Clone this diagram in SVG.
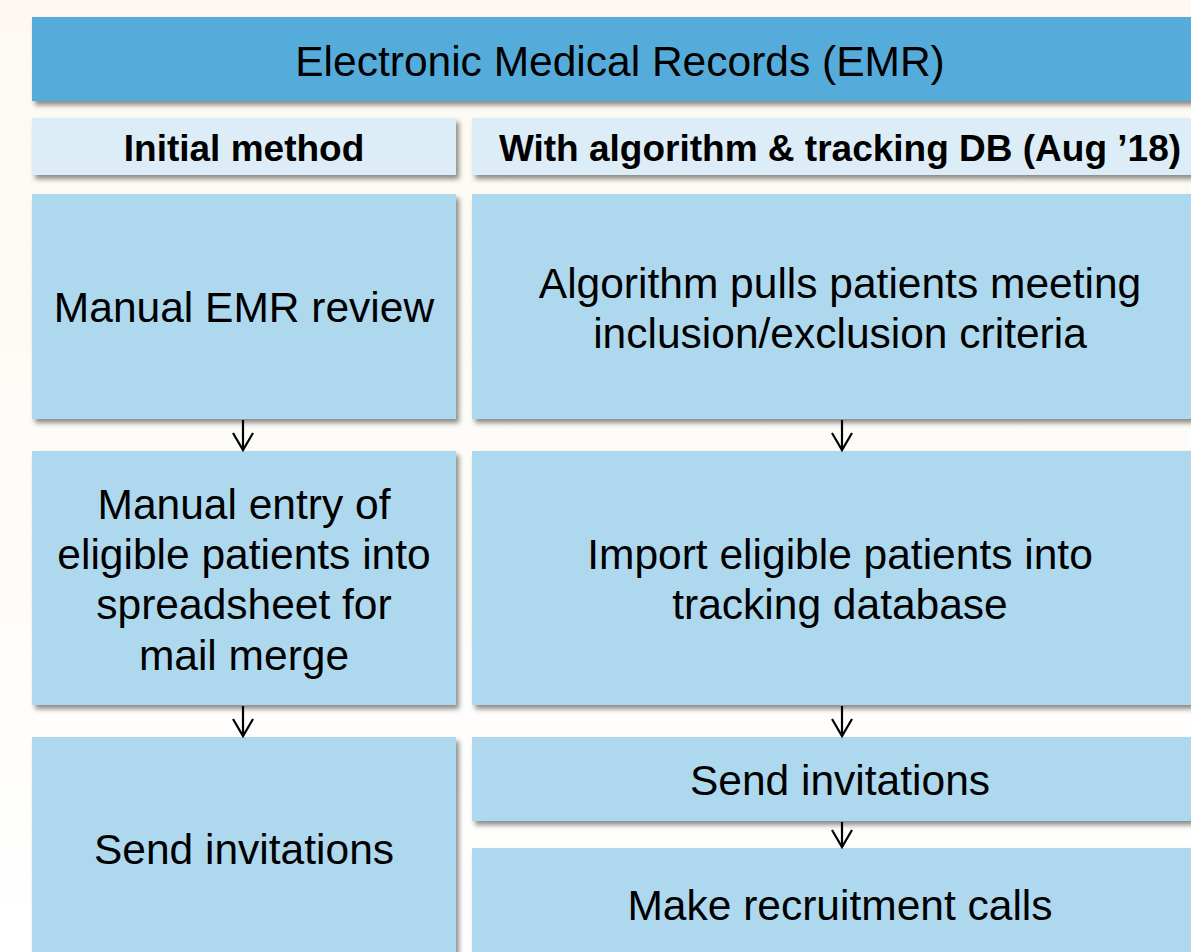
<svg xmlns="http://www.w3.org/2000/svg" width="1191" height="952" viewBox="0 0 1191 952">
<defs>
<linearGradient id="bg" x1="0" y1="0" x2="0" y2="1">
<stop offset="0" stop-color="#FDF9F2"/>
<stop offset="1" stop-color="#FFFFFF"/>
</linearGradient>
<filter id="sh" x="-5%" y="-10%" width="115%" height="130%">
<feDropShadow dx="3" dy="4" stdDeviation="2.5" flood-color="#000" flood-opacity="0.45"/>
</filter>
<marker id="ah" markerUnits="userSpaceOnUse" markerWidth="24" markerHeight="26" viewBox="-20 -12 24 24" refX="0" refY="0" orient="auto">
<path d="M-17,-10 L0,0 L-17,10" fill="none" stroke="#000" stroke-width="2.2"/>
</marker>
<style>
.title{fill:#54ACDA;filter:url(#sh)}
.hdr{fill:#DDEDF7;filter:url(#sh)}
.box{fill:#AED8EE;filter:url(#sh)}
text{font-family:"Liberation Sans",Arial,sans-serif;fill:#000;text-anchor:middle}
.t1{font-size:42.5px}
.t2{font-size:37px;font-weight:bold}
.tb{font-size:42.5px}
.con{stroke:#000;stroke-width:2.2;fill:none;marker-end:url(#ah)}
</style>
</defs>
<rect width="1191" height="952" fill="url(#bg)"/>
<g id="title"><rect class="title" x="32" y="17" width="1190" height="84"/><text class="t1" x="620" y="76">Electronic Medical Records (EMR)</text></g>
<g id="hdr-left"><rect class="hdr" x="32" y="118" width="424" height="57"/><text class="t2" x="244" y="161">Initial method</text></g>
<g id="hdr-right"><rect class="hdr" x="472" y="118" width="750" height="57"/><text class="t2" x="840" y="161">With algorithm &amp; tracking DB (Aug ’18)</text></g>
<g id="l1"><rect class="box" x="32" y="194" width="424" height="225"/><text class="tb" x="244" y="322">Manual EMR review</text></g>
<g id="r1"><rect class="box" x="472" y="194" width="750" height="225"/><text class="tb" x="840" y="298">Algorithm pulls patients meeting</text><text class="tb" x="840" y="348">inclusion/exclusion criteria</text></g>
<g id="l2"><rect class="box" x="32" y="451" width="424" height="254"/><text class="tb" x="244" y="519">Manual entry of</text><text class="tb" x="244" y="569">eligible patients into</text><text class="tb" x="244" y="619">spreadsheet for</text><text class="tb" x="244" y="670">mail merge</text></g>
<g id="r2"><rect class="box" x="472" y="451" width="750" height="254"/><text class="tb" x="840" y="569">Import eligible patients into</text><text class="tb" x="840" y="619">tracking database</text></g>
<g id="l3"><rect class="box" x="32" y="737" width="424" height="240"/><text class="tb" x="244" y="864">Send invitations</text></g>
<g id="r3"><rect class="box" x="472" y="737" width="750" height="84"/><text class="tb" x="840" y="795">Send invitations</text></g>
<g id="r4"><rect class="box" x="472" y="848" width="750" height="130"/><text class="tb" x="840" y="920">Make recruitment calls</text></g>
<g id="connectors">
<path class="con" d="M243,420 L243,450"/>
<path class="con" d="M243,706 L243,736"/>
<path class="con" d="M842,420 L842,450"/>
<path class="con" d="M842,706 L842,736"/>
<path class="con" d="M842,822 L842,847"/>
</g>
</svg>
